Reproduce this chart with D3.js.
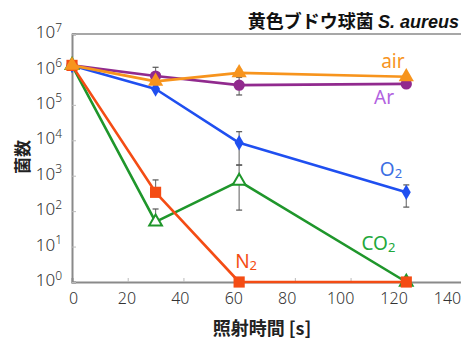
<!DOCTYPE html>
<html><head><meta charset="utf-8">
<script src="https://cdn.jsdelivr.net/npm/d3@7"></script>
<style>
html,body{margin:0;padding:0;background:#fff;}
svg{display:block;font-family:"Noto Sans CJK JP","Noto Sans",sans-serif;}
</style></head><body>
<svg id="c" width="461" height="340"></svg>
<script>
// ---- data ----
const times = [0, 30, 60, 120];
const xTicks = [0, 20, 40, 60, 80, 100, 120, 140];
const yTicks = [1, 10, 100, 1e3, 1e4, 1e5, 1e6, 1e7];
const seriesNames = ["Ar", "O2", "CO2", "N2", "air"];
const arVals  = [1.3e6, 6.5e5, 3.6e5, 3.9e5];
const o2Vals  = [1.3e6, 2.8e5, 8.5e3, 3.4e2];
const co2Vals = [1.3e6, 50, 7.0e2, 1];
const n2Vals  = [1.3e6, 3.4e2, 1, 1];
const airVals = [1.3e6, 4.6e5, 8.0e5, 6.2e5];
// error bar extents (upper, lower); null = none
const arHi  = [null, 1.15e6, 6.0e5, null];  const arLo  = [null, null, 1.9e5, null];
const o2Hi  = [null, null, 1.75e4, 5.5e2];  const o2Lo  = [null, null, 2.0e3, 1.3e2];
const co2Hi = [null, 1.15e2, 2.0e3, null];  const co2Lo = [null, null, 1.07e2, null];
const n2Hi  = [null, 7.6e2, null, null];    const n2Lo  = [null, null, null, null];
const airHi = [null, null, 1.0e6, 6.8e5];   const airLo = [null, null, null, null];
// label anchor positions in data units [time, count]
const labelPos = {Ar:[112, 1.06e5], O2:[114.5, 980], CO2:[110, 8.0], N2:[62.5, 2.5], air:[115.2, 1.1e6]};

const series = [
  {name:"Ar",  vals:arVals,  hi:arHi,  lo:arLo,  color:"#912a8e", shape:"circle",  label:"Ar",  lcolor:"#b262e0"},
  {name:"O2",  vals:o2Vals,  hi:o2Hi,  lo:o2Lo,  color:"#1f4ff0", shape:"diamond", label:"O", sub:"2", lcolor:"#3b6fe3"},
  {name:"CO2", vals:co2Vals, hi:co2Hi, lo:co2Lo, color:"#1f962b", shape:"triOpen", label:"CO", sub:"2", lcolor:"#21a83b"},
  {name:"N2",  vals:n2Vals,  hi:n2Hi,  lo:n2Lo,  color:"#f44c14", shape:"square",  label:"N", sub:"2", lcolor:"#f44c14"},
  {name:"air", vals:airVals, hi:airHi, lo:airLo, color:"#f7941d", shape:"triangle",label:"air", lcolor:"#f7941d"}
];

const svg = d3.select("#c");
const x = d3.scaleLinear().domain([0, 140]).range([72, 462]);
const xLab = d3.scaleLinear().domain([0, 140]).range([73, 447]);
const y = d3.scaleLog().domain([1, 1e7]).range([282, 34]);

// frame (top)
const axisColor = "#8a8a8a";
svg.append("line").attr("x1", x(0)).attr("x2", x(140)).attr("y1", y(1e7)).attr("y2", y(1e7))
  .attr("stroke", axisColor).attr("stroke-width", 1.3);

// x axis ticks (inward)
const gx = svg.append("g").attr("transform", `translate(0,${y(1)})`)
  .call(d3.axisBottom(x).tickValues(xTicks).tickSize(-4).tickFormat(""));
gx.select(".domain").attr("stroke", axisColor).attr("stroke-width", 2);
gx.selectAll(".tick line").attr("stroke", "#bbb");
// x tick labels
const gxl = svg.append("g").attr("transform", `translate(0,${y(1)})`)
  .call(d3.axisBottom(xLab).tickValues(xTicks).tickSize(0).tickPadding(11));
gxl.select(".domain").remove();
gxl.selectAll(".tick text").attr("font-size", 16).attr("fill", "#333").attr("font-family", "Noto Sans, sans-serif").attr("font-weight", 300);

// y axis
const gy = svg.append("g").attr("transform", `translate(${x(0)},0)`)
  .call(d3.axisLeft(y).tickValues(yTicks).tickSize(-4).tickFormat(""));
gy.select(".domain").attr("stroke", axisColor).attr("stroke-width", 2);
gy.selectAll(".tick line").attr("stroke", "#bbb");
gy.selectAll(".tick").each(function(d) {
  const t = d3.select(this).append("text").attr("x", -10).attr("dy", "0.36em")
    .attr("text-anchor", "end").attr("fill", "#333").attr("font-family", "Noto Sans, sans-serif").attr("font-weight", 300);
  t.append("tspan").attr("font-size", 17).text("10");
  t.append("tspan").attr("font-size", 12).attr("dy", "-0.55em").text(Math.round(Math.log10(d)));
});

// error bars
const eg = svg.append("g");
series.forEach(s => {
  times.forEach((t, i) => {
    const v = s.vals[i];
    [s.hi[i], s.lo[i]].forEach(e => {
      if (e == null) return;
      eg.append("line").attr("x1", x(t)).attr("x2", x(t)).attr("y1", y(v)).attr("y2", y(e))
        .attr("stroke", "#777").attr("stroke-width", 1.2);
      eg.append("line").attr("x1", x(t) - 3).attr("x2", x(t) + 3).attr("y1", y(e)).attr("y2", y(e))
        .attr("stroke", "#555").attr("stroke-width", 1.2);
    });
  });
});

// lines + markers
const line = d3.line().x((d, i) => x(times[i])).y(d => y(d));
const sym = {
  circle: d3.symbol().type(d3.symbolCircle).size(100),
  diamond: d3.symbol().type(d3.symbolDiamond).size(70),
  triOpen: d3.symbol().type(d3.symbolTriangle).size(70),
  square: d3.symbol().type(d3.symbolSquare).size(125),
  triangle: d3.symbol().type(d3.symbolTriangle).size(100)
};
series.forEach(s => {
  svg.append("path").attr("d", line(s.vals)).attr("fill", "none")
    .attr("stroke", s.color).attr("stroke-width", 2.6).attr("stroke-linejoin", "round");
  s.vals.forEach((v, i) => {
    const p = svg.append("path").attr("d", sym[s.shape]())
      .attr("transform", `translate(${x(times[i])},${y(v)})`);
    if (s.shape === "triOpen") p.attr("fill", "#fff").attr("stroke", s.color).attr("stroke-width", 2);
    else p.attr("fill", s.color);
  });
});

// series labels
series.forEach(s => {
  const [lx, ly] = labelPos[s.name];
  const t = svg.append("text").attr("x", x(lx)).attr("y", y(ly))
    .attr("text-anchor", "middle").attr("fill", s.lcolor)
    .attr("font-family", "Noto Sans, sans-serif").attr("font-size", 19);
  t.append("tspan").text(s.label);
  if (s.sub) t.append("tspan").attr("font-size", 13).attr("dy", "0.15em").text(s.sub);
});

// title
const title = svg.append("text").attr("x", 459).attr("y", 28).attr("text-anchor", "end")
  .attr("font-weight", 700).attr("font-size", 18).attr("fill", "#111");
title.append("tspan").text("黄色ブドウ球菌 ");
title.append("tspan").attr("font-style", "italic").attr("font-family", "Liberation Sans, Arial, sans-serif").text("S. aureus");

// axis titles
svg.append("text").attr("x", 262).attr("y", 335).attr("text-anchor", "middle")
  .attr("font-weight", 700).attr("font-size", 18).attr("fill", "#222").text("照射時間 [s]");
svg.append("text").attr("transform", "translate(29,157) rotate(-90)").attr("text-anchor", "middle")
  .attr("font-weight", 700).attr("font-size", 17).attr("fill", "#222").text("菌数");
</script>
</body></html>
